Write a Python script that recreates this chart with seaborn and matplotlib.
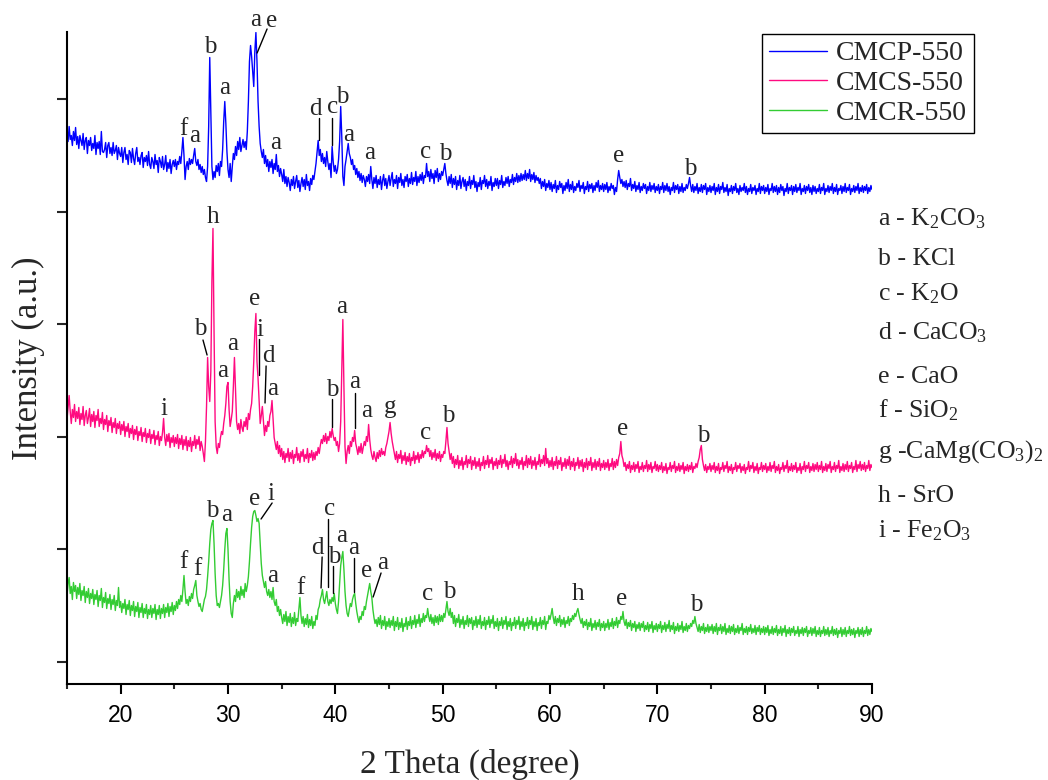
import numpy as np
import pandas as pd
import matplotlib
matplotlib.use("Agg")
import matplotlib.pyplot as plt
import seaborn as sns

# ---------------- data ----------------
# 2-theta scan grid (degrees), step 0.1
two_theta = np.round(np.arange(15.0, 90.0001, 0.1), 1)

# intensities (a.u.) of each pattern above its own stacking baseline, one line per degree
cmcp = [
    90, 80, 95, 82, 86, 76, 90, 81, 94, 77,
    85, 73, 86, 81, 76, 88, 72, 81, 84, 68,
    81, 76, 84, 71, 78, 73, 86, 67, 79, 73,
    80, 67, 90, 70, 69, 72, 79, 64, 76, 79,
    68, 74, 66, 79, 68, 71, 76, 62, 74, 68,
    65, 74, 59, 69, 74, 62, 67, 57, 71, 69,
    59, 73, 63, 57, 68, 74, 60, 64, 57, 66,
    69, 54, 64, 60, 66, 56, 70, 57, 53, 64,
    60, 53, 67, 57, 61, 49, 64, 60, 54, 65,
    52, 57, 66, 50, 59, 53, 62, 48, 57, 61,
    55, 62, 52, 60, 57, 65, 58, 70, 84, 66,
    42, 55, 60, 52, 63, 57, 62, 58, 66, 73,
    60, 56, 62, 52, 57, 49, 55, 47, 52, 44,
    40, 55, 95, 164, 110, 55, 42, 50, 44, 56,
    50, 58, 46, 60, 55, 72, 100, 120, 98, 70,
    52, 44, 58, 40, 55, 68, 62, 75, 66, 80,
    72, 84, 70, 76, 82, 74, 80, 72, 90, 120,
    160, 176, 165, 150, 135, 170, 189, 160, 120, 95,
    78, 70, 64, 72, 58, 66, 55, 62, 50, 60,
    54, 62, 48, 58, 52, 67, 50, 56, 45, 53,
    47, 40, 52, 38, 45, 35, 44, 39, 31, 42,
    36, 45, 33, 40, 46, 34, 41, 30, 38, 44,
    35, 42, 32, 47, 36, 40, 31, 43, 37, 46,
    42, 50, 58, 70, 81, 66, 72, 60, 68, 58,
    64, 55, 70, 60, 52, 58, 44, 75, 60, 50,
    56, 48, 52, 62, 80, 115, 85, 45, 36, 55,
    62, 70, 78, 68, 64, 57, 62, 52, 56, 47,
    53, 44, 50, 41, 48, 39, 46, 42, 35, 45,
    40, 47, 38, 55, 42, 33, 44, 38, 46, 34,
    42, 37, 45, 32, 41, 47, 36, 43, 33, 40,
    46, 36, 43, 49, 35, 42, 38, 46, 33, 44,
    39, 48, 36, 42, 34, 45, 40, 47, 35, 43,
    38, 49, 37, 44, 40, 50, 36, 45, 39, 47,
    41, 49, 38, 46, 44, 58, 45, 50, 40, 52,
    43, 48, 38, 51, 44, 53, 40, 48, 42, 50,
    46, 52, 58, 48, 41, 36, 45, 38, 47, 34,
    43, 37, 45, 32, 41, 36, 46, 33, 40, 44,
    35, 42, 31, 40, 36, 45, 33, 41, 37, 46,
    34, 40, 30, 39, 35, 44, 32, 41, 38, 46,
    35, 42, 33, 40, 36, 45, 31, 39, 35, 43,
    36, 43, 33, 41, 37, 46, 34, 40, 36, 44,
    38, 45, 35, 42, 39, 47, 37, 44, 40, 48,
    39, 46, 40, 48, 41, 47, 42, 51, 41, 48,
    43, 52, 40, 47, 42, 49, 39, 46, 41, 44,
    38, 43, 33, 40, 35, 42, 31, 38, 34, 41,
    32, 39, 30, 37, 33, 41, 29, 36, 32, 40,
    34, 38, 28, 36, 31, 39, 33, 42, 30, 37,
    32, 40, 29, 35, 31, 38, 34, 41, 30, 36,
    33, 39, 28, 35, 32, 40, 30, 37, 33, 38,
    29, 36, 31, 39, 34, 41, 30, 36, 32, 38,
    30, 37, 32, 39, 29, 35, 31, 38, 33, 36,
    27, 34, 30, 42, 51, 44, 38, 42, 35, 40,
    34, 41, 32, 38, 35, 43, 31, 37, 33, 40,
    30, 36, 32, 39, 29, 35, 31, 38, 33, 37,
    28, 35, 31, 39, 30, 36, 32, 38, 29, 35,
    31, 37, 28, 35, 32, 39, 29, 36, 31, 38,
    30, 35, 27, 34, 31, 39, 29, 36, 32, 37,
    28, 35, 30, 38, 29, 34, 31, 37, 33, 38,
    44, 36, 30, 37, 29, 35, 31, 38, 28, 34,
    30, 37, 29, 36, 32, 38, 27, 34, 30, 36,
    29, 35, 31, 38, 27, 34, 30, 37, 28, 35,
    32, 39, 29, 34, 30, 37, 26, 33, 30, 36,
    28, 35, 31, 38, 29, 33, 27, 36, 30, 34,
    31, 38, 29, 35, 27, 33, 30, 37, 28, 34,
    31, 36, 27, 33, 30, 38, 28, 35, 31, 36,
    28, 34, 30, 37, 27, 33, 31, 38, 29, 35,
    30, 36, 27, 34, 29, 37, 31, 35, 26, 33,
    30, 38, 28, 34, 31, 36, 27, 35, 30, 37,
    29, 34, 31, 38, 27, 33, 30, 36, 28, 35,
    31, 37, 29, 34, 27, 36, 30, 35, 28, 33,
    30, 37, 28, 34, 31, 38, 27, 33, 30, 36,
    29, 35, 31, 38, 28, 34, 30, 37, 27, 33,
    31, 36, 28, 35, 30, 38, 29, 34, 31, 37,
    27, 33, 30, 36, 29, 35, 31, 38, 28, 34,
    30, 36, 29, 35, 31, 37, 28, 34, 30, 36,
    32,
]
cmcs = [
    62, 74, 86, 70, 58, 72, 64, 77, 60, 70,
    63, 74, 57, 68, 62, 75, 56, 66, 71, 58,
    64, 73, 55, 67, 60, 70, 54, 66, 61, 72,
    55, 63, 58, 69, 52, 62, 57, 66, 50, 61,
    56, 64, 49, 59, 54, 63, 48, 58, 53, 60,
    47, 57, 51, 60, 45, 55, 50, 58, 44, 53,
    48, 56, 42, 52, 47, 55, 41, 50, 46, 54,
    40, 49, 45, 53, 39, 48, 44, 52, 38, 47,
    43, 51, 37, 46, 42, 50, 36, 45, 41, 49,
    63, 44, 36, 47, 40, 48, 34, 44, 39, 46,
    35, 44, 38, 47, 33, 43, 37, 46, 32, 42,
    36, 45, 31, 41, 35, 44, 30, 40, 36, 46,
    33, 42, 37, 45, 31, 40, 35, 28, 20, 40,
    75, 124, 95, 80, 110, 200, 253, 150, 60, 35,
    28, 38, 34, 44, 50, 47, 58, 66, 78, 95,
    99, 72, 55, 62, 70, 95, 124, 92, 60, 52,
    58, 48, 62, 54, 50, 60, 55, 64, 52, 68,
    62, 72, 78, 95, 120, 150, 168, 120, 103, 80,
    58, 66, 75, 60, 46, 56, 50, 60, 55, 66,
    70, 81, 62, 44, 38, 32, 40, 28, 36, 25,
    33, 22, 30, 19, 28, 24, 33, 20, 29, 23,
    31, 18, 27, 24, 34, 21, 28, 19, 30, 25,
    32, 20, 27, 23, 33, 19, 28, 24, 31, 21,
    29, 22, 30, 26, 34, 28, 36, 42, 38, 46,
    40, 48, 38, 45, 41, 50, 44, 53, 46, 41,
    44, 36, 40, 30, 38, 60, 110, 162, 95, 35,
    18, 30, 36, 28, 40, 35, 44, 40, 51, 38,
    33, 27, 35, 29, 38, 28, 34, 40, 36, 45,
    40, 57, 42, 32, 26, 22, 30, 24, 20, 29,
    23, 31, 25, 33, 27, 30, 26, 34, 38, 44,
    50, 59, 48, 40, 34, 28, 22, 30, 19, 27,
    23, 31, 18, 26, 21, 29, 17, 25, 20, 28,
    16, 24, 21, 30, 18, 26, 22, 29, 19, 27,
    23, 31, 24, 30, 28, 36, 30, 33, 25, 31,
    22, 29, 24, 32, 21, 28, 23, 30, 20, 27,
    24, 30, 28, 40, 54, 38, 30, 22, 28, 18,
    25, 14, 22, 17, 26, 13, 21, 16, 24, 12,
    20, 17, 26, 14, 22, 18, 25, 12, 21, 16,
    24, 13, 20, 15, 23, 11, 19, 16, 25, 13,
    21, 17, 26, 14, 22, 18, 24, 12, 20, 16,
    23, 13, 21, 17, 26, 14, 22, 18, 27, 15,
    21, 12, 20, 17, 25, 14, 23, 18, 28, 16,
    22, 13, 21, 17, 24, 12, 20, 16, 26, 14,
    23, 17, 25, 13, 21, 16, 24, 12, 20, 17,
    27, 15, 22, 18, 26, 16, 33, 18, 23, 14,
    21, 15, 24, 12, 20, 16, 25, 13, 21, 17,
    24, 11, 19, 15, 23, 13, 22, 16, 25, 12,
    20, 15, 23, 11, 19, 16, 24, 13, 21, 15,
    22, 10, 19, 14, 23, 12, 20, 16, 24, 11,
    19, 14, 22, 12, 20, 15, 23, 11, 18, 14,
    21, 12, 19, 14, 22, 11, 18, 15, 23, 12,
    20, 14, 22, 16, 24, 28, 40, 26, 22, 15,
    19, 11, 17, 13, 20, 9, 16, 12, 19, 10,
    17, 13, 20, 9, 15, 12, 19, 10, 16, 13,
    21, 10, 17, 12, 19, 9, 15, 13, 20, 11,
    17, 10, 16, 12, 19, 9, 15, 11, 18, 8,
    14, 12, 19, 10, 16, 13, 20, 9, 15, 11,
    18, 10, 16, 12, 19, 8, 15, 11, 17, 10,
    16, 12, 19, 9, 15, 13, 18, 14, 20, 24,
    32, 36, 22, 16, 11, 17, 9, 15, 12, 18,
    10, 16, 12, 19, 9, 15, 11, 18, 8, 14,
    12, 19, 10, 16, 13, 20, 9, 15, 11, 17,
    8, 14, 12, 19, 10, 16, 13, 18, 9, 15,
    11, 17, 8, 14, 12, 20, 10, 16, 13, 19,
    9, 15, 11, 18, 8, 14, 12, 19, 10, 16,
    12, 18, 9, 15, 11, 19, 10, 16, 13, 20,
    9, 15, 11, 17, 8, 14, 12, 19, 10, 16,
    13, 21, 9, 15, 11, 18, 10, 16, 12, 19,
    9, 14, 11, 18, 8, 15, 12, 20, 10, 16,
    13, 19, 9, 15, 11, 18, 10, 17, 12, 19,
    10, 16, 12, 20, 9, 15, 11, 18, 10, 17,
    13, 20, 9, 15, 12, 19, 10, 16, 13, 21,
    9, 15, 11, 18, 10, 17, 12, 20, 10, 16,
    13, 19, 9, 15, 12, 21, 10, 17, 13, 20,
    11, 17, 12, 19, 10, 16, 13, 21, 11, 17,
    14,
]
cmcr = [
    66, 78, 84, 68, 75, 62, 79, 70, 76, 63,
    74, 67, 78, 61, 71, 66, 75, 59, 70, 64,
    73, 58, 68, 63, 72, 57, 67, 62, 71, 55,
    66, 61, 73, 54, 64, 59, 69, 53, 63, 58,
    67, 52, 62, 57, 66, 51, 61, 56, 74, 54,
    60, 49, 58, 53, 62, 47, 57, 52, 61, 46,
    56, 51, 60, 45, 55, 50, 59, 44, 54, 49,
    58, 44, 53, 48, 57, 43, 52, 47, 56, 44,
    53, 48, 57, 42, 52, 47, 56, 43, 53, 48,
    57, 44, 54, 49, 58, 45, 55, 50, 59, 47,
    56, 51, 60, 53, 62, 57, 66, 60, 72, 86,
    70, 58, 62, 56, 65, 60, 68, 63, 72, 76,
    81, 66, 60, 55, 58, 52, 50, 56, 62, 65,
    72, 85, 100, 118, 132, 138, 141, 118, 88, 66,
    56, 58, 54, 60, 66, 76, 92, 112, 128, 133,
    112, 82, 60, 48, 44, 58, 66, 60, 72, 64,
    70, 62, 75, 66, 72, 64, 78, 70, 76, 85,
    100, 118, 134, 145, 150, 151, 146, 140, 143, 138,
    118, 98, 86, 80, 74, 80, 70, 66, 72, 64,
    70, 62, 74, 60, 56, 62, 50, 55, 46, 52,
    44, 38, 47, 40, 50, 36, 45, 39, 48, 35,
    44, 38, 49, 36, 43, 40, 52, 64, 46, 38,
    45, 35, 43, 37, 47, 34, 42, 36, 45, 33,
    40, 36, 46, 42, 52, 55, 62, 66, 72, 62,
    58, 64, 70, 60, 56, 62, 58, 64, 60, 68,
    58, 52, 48, 60, 78, 96, 104, 110, 92, 70,
    56, 48, 45, 52, 58, 55, 62, 66, 68, 58,
    50, 44, 39, 45, 42, 50, 46, 55, 52, 60,
    66, 72, 78, 70, 64, 52, 44, 38, 42, 35,
    44, 37, 46, 33, 41, 36, 45, 32, 40, 35,
    43, 34, 41, 36, 45, 31, 40, 35, 44, 32,
    39, 34, 43, 30, 38, 35, 44, 32, 40, 36,
    45, 33, 41, 37, 46, 34, 42, 38, 47, 35,
    43, 39, 48, 40, 46, 44, 53, 45, 40, 47,
    38, 44, 36, 46, 39, 45, 37, 47, 40, 46,
    40, 48, 44, 52, 60, 50, 46, 53, 44, 49,
    38, 46, 35, 43, 39, 47, 34, 42, 37, 45,
    33, 41, 37, 46, 35, 43, 38, 44, 32, 41,
    36, 45, 34, 42, 37, 46, 33, 40, 36, 44,
    32, 41, 37, 45, 34, 42, 38, 46, 33, 40,
    35, 43, 31, 40, 36, 44, 33, 41, 37, 45,
    32, 40, 35, 43, 31, 39, 36, 44, 33, 41,
    37, 45, 32, 40, 35, 43, 31, 39, 36, 44,
    33, 41, 37, 45, 32, 40, 35, 43, 31, 39,
    36, 44, 33, 41, 37, 45, 32, 40, 38, 46,
    42, 47, 53, 44, 38, 45, 36, 43, 39, 46,
    35, 42, 37, 44, 34, 41, 38, 45, 36, 43,
    40, 46, 42, 48, 45, 50, 53, 47, 42, 38,
    43, 34, 40, 36, 42, 32, 39, 35, 43, 31,
    38, 34, 41, 32, 39, 35, 42, 31, 38, 34,
    40, 31, 38, 34, 42, 32, 39, 35, 43, 33,
    40, 36, 44, 34, 41, 38, 45, 42, 50, 40,
    36, 42, 33, 39, 35, 41, 31, 38, 34, 40,
    30, 37, 33, 39, 31, 38, 34, 40, 30, 36,
    32, 39, 30, 37, 33, 40, 29, 36, 32, 38,
    30, 37, 33, 40, 29, 36, 32, 39, 30, 37,
    33, 41, 30, 36, 32, 39, 28, 35, 31, 38,
    30, 36, 32, 40, 29, 35, 31, 38, 30, 36,
    33, 38, 35, 41, 38, 45, 38, 34, 30, 37,
    29, 35, 31, 38, 28, 34, 30, 37, 29, 35,
    31, 37, 28, 35, 30, 38, 27, 34, 31, 37,
    28, 35, 30, 38, 27, 33, 29, 36, 28, 35,
    30, 37, 27, 33, 29, 36, 28, 34, 31, 38,
    27, 33, 29, 35, 27, 34, 30, 37, 28, 33,
    29, 36, 27, 34, 30, 36, 27, 33, 29, 35,
    27, 34, 29, 36, 26, 32, 28, 35, 27, 33,
    29, 36, 26, 32, 28, 35, 26, 33, 29, 36,
    25, 32, 28, 34, 26, 33, 29, 35, 26, 31,
    28, 35, 25, 32, 28, 34, 26, 33, 29, 35,
    25, 31, 28, 34, 26, 33, 28, 35, 25, 31,
    27, 34, 25, 31, 28, 35, 26, 32, 27, 34,
    25, 31, 28, 35, 26, 32, 27, 33, 24, 31,
    28, 34, 25, 32, 27, 34, 25, 31, 28, 35,
    26, 32, 27, 33, 24, 31, 28, 34, 25, 32,
    27, 34, 25, 31, 28, 35, 26, 32, 27, 33,
    30,
]

series_names = ["CMCP-550", "CMCS-550", "CMCR-550"]
series_values = [cmcp, cmcs, cmcr]
series_offsets = [440, 180, 0]          # vertical stacking offsets
series_colors = ["#0000ff", "#ff0a80", "#33cc33"]

phase_labels = [
    "a - K$_2$CO$_3$", "b - KCl", "c - K$_2$O", "d - CaCO$_3$", "e - CaO",
    "f - SiO$_2$", "g -CaMg(CO$_3$)$_2$", "h - SrO", "i - Fe$_2$O$_3$",
]

# peak letters: (letter, 2theta, intensity at text baseline)
peak_letters = [
    # CMCP-550
    ("b", 28.33, 608.5), ("a", 29.72, 567.5), ("a", 32.61, 635.5), ("e", 34.10, 634.5),
    ("f", 25.81, 526.5), ("a", 26.93, 519.5), ("a", 34.48, 512.5), ("d", 38.11, 546.5),
    ("c", 39.70, 548.5), ("b", 40.63, 558.5), ("a", 41.28, 520.5), ("a", 43.15, 502.5),
    ("c", 48.36, 503.5), ("b", 50.23, 501.5), ("e", 66.44, 499.5), ("b", 73.06, 486.5),
    # CMCS-550
    ("h", 28.61, 438.5), ("b", 27.40, 326.5), ("a", 29.54, 284.5), ("a", 30.47, 311.5),
    ("e", 32.52, 356.5), ("i", 32.99, 325.5), ("d", 33.73, 299.5), ("a", 34.20, 266.5),
    ("i", 24.04, 246.5), ("b", 39.70, 265.5), ("a", 40.63, 348.5), ("a", 41.84, 273.5),
    ("a", 42.96, 244.5), ("g", 45.10, 248.5), ("c", 48.36, 222.5), ("b", 50.51, 239.5),
    ("e", 66.72, 226.5), ("b", 74.27, 219.5),
    # CMCR-550
    ("b", 28.51, 144.5), ("a", 29.91, 140.5), ("e", 32.52, 156.5), ("i", 34.01, 161.5),
    ("f", 25.81, 93.5), ("f", 27.12, 86.5), ("a", 34.20, 79.5), ("f", 36.71, 67.5),
    ("d", 38.30, 107.5), ("c", 39.42, 146.5), ("b", 39.88, 98.5), ("a", 40.63, 119.5),
    ("a", 41.75, 107.5), ("e", 42.96, 84.5), ("a", 44.36, 92.5), ("c", 48.55, 61.5),
    ("b", 50.60, 63.5), ("h", 62.62, 61.5), ("e", 66.63, 56.5), ("b", 73.62, 50.5),
]
# leader lines: (x0, y0, x1, y1) in data units
leader_lines = [
    (33.64, 632.5, 32.71, 608.5),
    (38.49, 543.5, 38.49, 521.5), (39.70, 543.5, 39.70, 516.5),
    (27.67, 321.5, 28.05, 306.5), (32.89, 322.5, 32.89, 286.5),
    (33.55, 295.5, 33.45, 258.5), (39.70, 262.5, 39.70, 234.5),
    (41.84, 268.5, 41.84, 233.5),
    (34.11, 158.5, 33.08, 142.5), (38.77, 104.5, 38.67, 73.5),
    (39.32, 142.5, 39.32, 74.5), (39.79, 95.5, 39.79, 68.5),
    (41.75, 103.5, 41.75, 69.5), (44.26, 88.5, 43.52, 64.5),
]

for nm, v in zip(series_names, series_values):
    if len(v) != len(two_theta):
        raise ValueError(f"{nm}: {len(v)} values for {len(two_theta)} angles")

# ---------------- figure ----------------
sns.set_style("ticks")
plt.rcParams["font.family"] = ["Liberation Serif", "DejaVu Serif"]
plt.rcParams["mathtext.default"] = "regular"

W, H = 1048, 780
fig = plt.figure(figsize=(W / 100, H / 100), dpi=100)
ax = fig.add_axes([67 / W, 1 - 684 / H, 805 / W, 652 / H])

frames = []
for name, vals, off in zip(series_names, series_values, series_offsets):
    frames.append(pd.DataFrame({
        "two_theta": two_theta,
        "intensity": np.asarray(vals, dtype=float) + off,
        "sample": name,
    }))
df = pd.concat(frames, ignore_index=True)

sns.lineplot(data=df, x="two_theta", y="intensity", hue="sample",
             hue_order=series_names, palette=dict(zip(series_names, series_colors)),
             estimator=None, sort=False, linewidth=1.0, legend=False, ax=ax)

ax.set_xlim(15, 90)
ax.set_ylim(-22.5, 629.5)

handles = list(ax.lines[:3])
leg = ax.legend(handles, series_names, loc="upper left",
                bbox_to_anchor=(762 / W, 1 - 34 / H), bbox_transform=fig.transFigure,
                frameon=True, fancybox=False, edgecolor="black", framealpha=1,
                fontsize=20, handlelength=2.1, handletextpad=0.3,
                labelspacing=0.15, borderpad=0.25, borderaxespad=0)
leg.get_frame().set_linewidth(1.0)

for letter, x, y in peak_letters:
    ax.text(x, y, letter, ha="center", va="baseline", fontsize=18, clip_on=False)
for x0, y0, x1, y1 in leader_lines:
    ax.plot([x0, x1], [y0, y1], color="black", linewidth=1.0, clip_on=False)

phase_baselines = [225, 265, 300, 339, 383, 417, 458, 502, 537]
for txt, yb in zip(phase_labels, phase_baselines):
    fig.text(878 / W, 1 - yb / H, txt, ha="left", va="baseline", fontsize=18.5)

# axes styling
for s in ["top", "right"]:
    ax.spines[s].set_visible(False)
for s in ["left", "bottom"]:
    ax.spines[s].set_linewidth(1.5)
    ax.spines[s].set_color("black")

ax.set_xticks(np.arange(20, 91, 10))
ax.set_xticks(np.arange(15, 90, 10), minor=True)
ax.set_yticks(np.arange(6) * 112.5)
ax.set_yticklabels([])
ax.tick_params(axis="x", which="major", length=7.2, width=1.5, direction="out",
               labelsize=16.5, pad=7, colors="black")
ax.tick_params(axis="x", which="minor", length=3.6, width=1.5, direction="out")
ax.tick_params(axis="y", which="major", length=7.2, width=1.5, direction="out")
for lbl in ax.get_xticklabels():
    lbl.set_fontfamily(["Liberation Sans", "DejaVu Sans"])

ax.set_xlabel("2 Theta (degree)", fontsize=24)
ax.xaxis.set_label_coords(0.5, (684 - 764) / 652)
ax.xaxis.label.set_va("center")
ax.set_ylabel("Intensity (a.u.)", fontsize=25)
ax.yaxis.set_label_coords((28 - 67) / 805, 0.5)
ax.yaxis.label.set_va("center")

fig.savefig("out.png", dpi=100)
